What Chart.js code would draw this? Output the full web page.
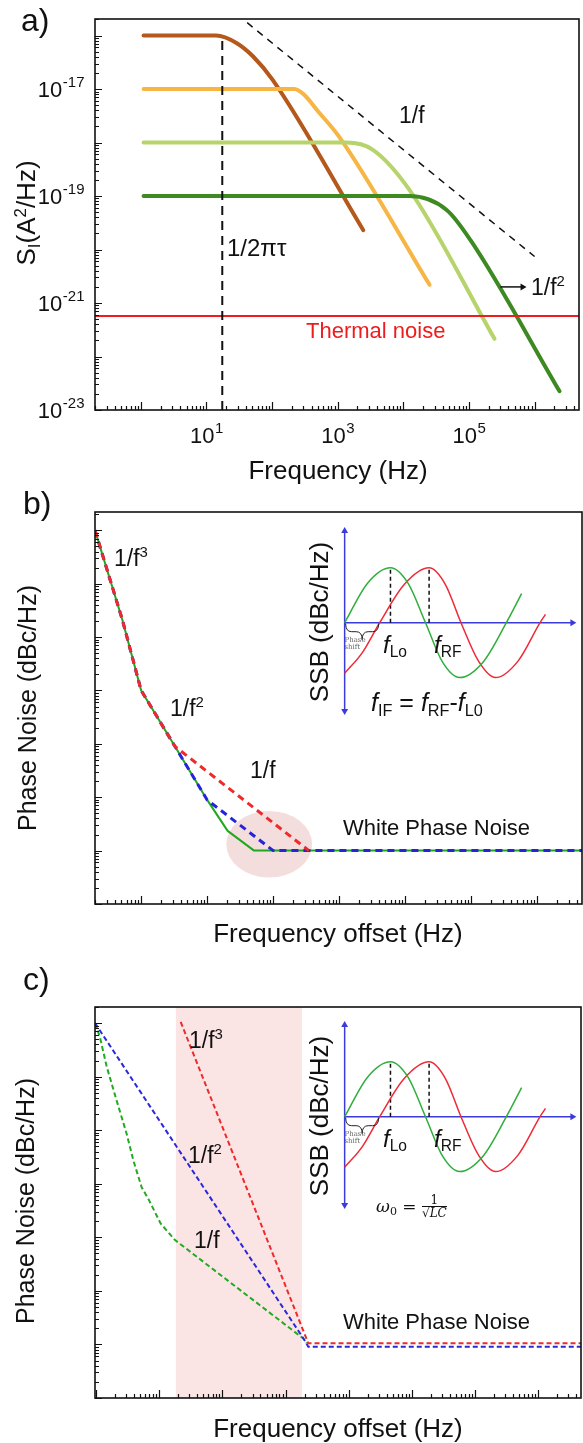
<!DOCTYPE html>
<html>
<head>
<meta charset="utf-8">
<title>Noise spectra</title>
<script src="https://cdn.jsdelivr.net/npm/chart.js@4.4.1/dist/chart.umd.min.js"></script>
<style>
  html, body { margin: 0; background: #fff; }
  #page { position: relative; width: 583px; height: 1443px; overflow: hidden;
          font-family: 'Liberation Sans', Arial, sans-serif; color: #111; }
  #page canvas { position: absolute; }
  .note, .vert { position: absolute; white-space: nowrap; line-height: 1; }
  .vert { transform: translate(-50%, -50%) rotate(-90deg); }
  .note sup, .note sub, .vert sup, .vert sub { font-size: 0.65em; position: relative; vertical-align: baseline; line-height: 0; }
  .note sup, .vert sup { top: -0.55em; }
  .note sub, .vert sub { top: 0.3em; }
  .frac { display: inline-block; vertical-align: middle; text-align: center; font-size: 12px; font-style: normal; }
  .frac span { display: block; line-height: 1.05; }
</style>
</head>
<body>
<div id="page">
  <canvas id="chartA" width="583" height="480" style="left:0;top:0"></canvas>
  <canvas id="chartB" width="583" height="480" style="left:0;top:480px"></canvas>
  <canvas id="chartC" width="583" height="483" style="left:0;top:960px"></canvas>
  <canvas id="insetB" width="253" height="215" style="left:330px;top:515px"></canvas>
  <canvas id="insetC" width="253" height="215" style="left:330px;top:1009px"></canvas>
</div>
<script>
// ---- a) current noise spectra, S_I (A²/Hz) vs frequency (Hz) ----
const aBrownF  = [1.1, 10, 14, 29, 51, 102, 2450];
const aBrownS  = [1e-16, 1e-16, 1e-16, 7.2e-17, 4.1e-17, 1.48e-17, 2.3e-20];
const aOrangeF = [1.1, 100, 219, 316, 479, 1047, 25100];
const aOrangeS = [1e-17, 1e-17, 1e-17, 7.6e-18, 4.1e-18, 1.29e-18, 2.19e-21];
const aLimeF   = [1.1, 1000, 1350, 3390, 12300, 245000];
const aLimeS   = [1e-18, 1e-18, 1e-18, 7.4e-19, 1.32e-19, 2.14e-22];
const aGreenF  = [1.1, 10000, 12300, 45700, 105000, 2400000];
const aGreenS  = [1e-19, 1e-19, 1e-19, 5.5e-20, 1.51e-20, 2.24e-23];
const aSlopeF  = [41.7, 1e6];            // 1/f guide
const aSlopeS  = [1.74e-16, 7.4e-21];
const aCornerF = 17.4;                   // 1/2πτ
const aCornerS = [1e-23, 1e-16];
const aThermalS = 5.7e-22;
const aArrowF  = [3.0e5, 6.55e5];
const aArrowS  = 2e-21;
const aXRange  = [0.2, 4.75e6];
const aYRange  = [1e-23, 2.04e-16];
const aXLabelExp = [1, 3, 5];
const aYLabelExp = [-17, -19, -21, -23];

// ---- b) phase noise vs offset, three oscillators ----
const bRedF   = [0.2, 0.52, 1, 3.26, 347];
const bRedN   = [1e6, 20900, 1000, 89, 1];
const bBlueF  = [0.2, 0.52, 1, 3.26, 10, 100, 4.75e6];
const bBlueN  = [1e6, 20900, 1000, 89, 8.9, 1, 1];
const bGreenF = [0.2, 0.52, 1, 3.26, 10, 20.4, 51.3, 4.75e6];
const bGreenN = [1e6, 20900, 1000, 89, 8.9, 2.34, 1, 1];
const bHaloF  = [19.5, 389];             // highlighted corner region
const bHaloN  = [0.312, 5.53];
const bXRange = [0.2, 4.75e6];
const bYRange = [0.1, 2.2e6];

// ---- c) phase noise slopes ----
const cRedF   = [2.19, 209, 229, 4.77e6];
const cRedN   = [1.05e6, 1.38, 1.05, 1.05];
const cBlueF  = [0.0962, 200, 229, 4.77e6];
const cBlueN  = [1e6, 1.2, 0.91, 0.91];
const cGreenF = [0.0962, 0.115, 0.148, 0.211, 0.304, 0.389, 0.525, 0.692, 1.05, 1.78, 191, 214];
const cGreenN = [1e6, 5.5e5, 1.51e5, 3.63e4, 8710, 2750, 871, 490, 182, 89, 1.29, 1.07];
const cBandF  = [1.84, 182];
const cXRange = [0.0962, 4.77e6];
const cYRange = [0.1, 2e6];

// ---- inset: LO / RF waveforms (phase in degrees, normalised amplitude) ----
const loPhase = [0, 51, 102, 141, 180, 218, 256, 308, 360, 394];
const loAmp   = [0, 0.72, 1, 0.72, 0, -0.72, -1, -0.72, 0, 0.53];
const rfPhase = [0, 39, 78, 133, 188, 224, 259, 298, 336, 386, 435, 447];
const rfAmp   = [-0.92, -0.55, 0, 0.7, 1, 0.7, 0, -0.7, -1, -0.7, 0, 0.15];
const peakPhase  = [102, 188];
const shiftPhase = [0, 78];
const insetAxisX = [0, 507];
const insetAxisY = [-1.61, 1.67];

const FONT = '"Liberation Sans", Arial, sans-serif';
Chart.defaults.font.family = FONT;

const pts = (xs, ys) => xs.map((x, i) => ({ x, y: Array.isArray(ys) ? ys[i] : ys }));

function logSteps(scale) {
  const out = [];
  const lo = Math.floor(Math.log10(scale.min));
  const hi = Math.ceil(Math.log10(scale.max));
  for (let e = lo; e <= hi; e++) {
    for (let m = 1; m <= 9; m++) {
      const v = m * Math.pow(10, e);
      if (v >= scale.min * (1 - 1e-9) && v <= scale.max * (1 + 1e-9)) out.push({ v, major: m === 1 });
    }
  }
  return out;
}

function drawPow(ctx, exp, x, y, anchor) {
  const sup = String(exp);
  ctx.font = '22px ' + FONT;
  const w1 = ctx.measureText('10').width;
  ctx.font = '15px ' + FONT;
  const w2 = ctx.measureText(sup).width;
  const left = anchor === 'center' ? x - (w1 + w2) / 2 : x - (w1 + w2);
  ctx.font = '22px ' + FONT;
  ctx.fillText('10', left, y);
  ctx.font = '15px ' + FONT;
  ctx.fillText(sup, left + w1 + 0.5, y - 10);
}

// box frame, inward log ticks and optional 10^n labels
const frameTicks = {
  id: 'frameTicks',
  afterDraw(chart, args, opts) {
    const { ctx, chartArea: ca, scales: { x, y } } = chart;
    ctx.save();
    ctx.strokeStyle = '#111';
    ctx.lineWidth = 1.2;
    ctx.beginPath();
    logSteps(x).forEach(t => {
      const px = Math.round(x.getPixelForValue(t.v)) + 0.5;
      ctx.moveTo(px, ca.bottom);
      ctx.lineTo(px, ca.bottom - (t.major ? 8 : 4));
    });
    logSteps(y).forEach(t => {
      const py = Math.round(y.getPixelForValue(t.v)) + 0.5;
      ctx.moveTo(ca.left, py);
      ctx.lineTo(ca.left + (t.major ? 7 : 4), py);
    });
    ctx.stroke();
    ctx.lineWidth = 1.6;
    ctx.strokeRect(ca.left, ca.top, ca.right - ca.left, ca.bottom - ca.top);

    ctx.fillStyle = '#111';
    ctx.textAlign = 'left';
    ctx.textBaseline = 'alphabetic';
    (opts.xExp || []).forEach(e => drawPow(ctx, e, x.getPixelForValue(Math.pow(10, e)), ca.bottom + 33, 'center'));
    (opts.yExp || []).forEach(e => drawPow(ctx, e, ca.left - 11, y.getPixelForValue(Math.pow(10, e)) + 8, 'right'));
    ctx.restore();
  }
};

// shaded regions behind the curves
const shading = {
  id: 'shading',
  beforeDatasetsDraw(chart, args, opts) {
    const { ctx, chartArea: ca, scales: { x, y } } = chart;
    ctx.save();
    if (opts.band) {
      const x1 = x.getPixelForValue(opts.band[0]);
      const x2 = x.getPixelForValue(opts.band[1]);
      ctx.fillStyle = 'rgba(240,150,150,0.26)';
      ctx.fillRect(x1, ca.top, x2 - x1, ca.bottom - ca.top);
    }
    if (opts.halo) {
      const x1 = x.getPixelForValue(opts.halo.x[0]), x2 = x.getPixelForValue(opts.halo.x[1]);
      const y1 = y.getPixelForValue(opts.halo.y[0]), y2 = y.getPixelForValue(opts.halo.y[1]);
      ctx.fillStyle = 'rgba(220,150,150,0.32)';
      ctx.beginPath();
      ctx.ellipse((x1 + x2) / 2, (y1 + y2) / 2, Math.abs(x2 - x1) / 2, Math.abs(y2 - y1) / 2, 0, 0, Math.PI * 2);
      ctx.fill();
    }
    ctx.restore();
  }
};

// curly brace marking the phase shift under the inset axis
const brace = {
  id: 'brace',
  afterDatasetsDraw(chart, args, opts) {
    const { ctx, scales: { x, y } } = chart;
    const x1 = x.getPixelForValue(opts.span[0]) + 1, x2 = x.getPixelForValue(opts.span[1]) - 1;
    const y0 = y.getPixelForValue(0) + 1, h = 16, q = 6, xm = (x1 + x2) / 2;
    ctx.save();
    ctx.strokeStyle = '#222';
    ctx.lineWidth = 1;
    ctx.beginPath();
    ctx.moveTo(x1, y0);
    ctx.quadraticCurveTo(x1, y0 + h / 2, x1 + q, y0 + h / 2);
    ctx.lineTo(xm - q, y0 + h / 2);
    ctx.quadraticCurveTo(xm, y0 + h / 2, xm, y0 + h);
    ctx.quadraticCurveTo(xm, y0 + h / 2, xm + q, y0 + h / 2);
    ctx.lineTo(x2 - q, y0 + h / 2);
    ctx.quadraticCurveTo(x2, y0 + h / 2, x2, y0);
    ctx.stroke();
    ctx.restore();
  }
};

function line(data, color, width, extra) {
  return Object.assign({
    data, borderColor: color, borderWidth: width, pointRadius: 0,
    fill: false, tension: 0, borderCapStyle: 'butt', borderJoinStyle: 'round'
  }, extra || {});
}

function logChart(id, padding, xr, yr, datasets, pluginOpts) {
  return new Chart(document.getElementById(id), {
    type: 'line',
    data: { datasets },
    options: {
      responsive: false, animation: false, events: [],
      layout: { padding },
      plugins: Object.assign({ legend: { display: false }, tooltip: { enabled: false } }, pluginOpts),
      scales: {
        x: { type: 'logarithmic', min: xr[0], max: xr[1], display: false },
        y: { type: 'logarithmic', min: yr[0], max: yr[1], display: false }
      }
    },
    plugins: [shading, frameTicks]
  });
}

const smooth = { cubicInterpolationMode: 'monotone', borderCapStyle: 'round' };

logChart('chartA', { left: 95, top: 19, right: 2, bottom: 70 }, aXRange, aYRange, [
  line(pts(aArrowF, aArrowS), '#111', 1.5, { pointRadius: [0, 4], pointStyle: 'triangle', pointRotation: 90, pointBackgroundColor: '#111', pointBorderWidth: 0 }),
  line(pts(aSlopeF, aSlopeS), '#111', 1.5, { borderDash: [7, 6] }),
  line(pts([aCornerF, aCornerF], aCornerS), '#111', 2, { borderDash: [9, 6] }),
  line(pts(aXRange, aThermalS), '#ee1c1c', 2),
  line(pts(aGreenF, aGreenS), '#3d8a22', 4, smooth),
  line(pts(aLimeF, aLimeS), '#b7d46c', 4, smooth),
  line(pts(aOrangeF, aOrangeS), '#f7b544', 4, smooth),
  line(pts(aBrownF, aBrownS), '#b4581c', 4, smooth)
], { frameTicks: { xExp: aXLabelExp, yExp: aYLabelExp } });

logChart('chartB', { left: 95, top: 32, right: 1, bottom: 56 }, bXRange, bYRange, [
  line(pts(bRedF, bRedN), '#ee2a2a', 3, { borderDash: [7, 5] }),
  line(pts(bBlueF, bBlueN), '#2424dc', 3, { borderDash: [7, 5] }),
  line(pts(bGreenF, bGreenN), '#1fa81f', 2)
], { shading: { halo: { x: bHaloF, y: bHaloN } } });

logChart('chartC', { left: 95, top: 47, right: 2, bottom: 45 }, cXRange, cYRange, [
  line(pts(cRedF, cRedN), '#ee2a2a', 2, { borderDash: [5, 3] }),
  line(pts(cBlueF, cBlueN), '#2828dc', 2, { borderDash: [5, 3] }),
  line(pts(cGreenF, cGreenN), '#22aa22', 2, { borderDash: [5, 3] })
], { shading: { band: cBandF } });

function inset(id) {
  const axisBlue = '#3b3bdc';
  return new Chart(document.getElementById(id), {
    type: 'line',
    data: {
      datasets: [
        line(pts(loPhase, loAmp), '#2fae3c', 1.5, { cubicInterpolationMode: 'monotone' }),
        line(pts(rfPhase, rfAmp), '#ee2a36', 1.5, { cubicInterpolationMode: 'monotone' }),
        line(pts([peakPhase[0], peakPhase[0]], [0, 1]), '#111', 1.5, { borderDash: [4, 3] }),
        line(pts([peakPhase[1], peakPhase[1]], [0, 1]), '#111', 1.5, { borderDash: [4, 3] }),
        line(pts(insetAxisX, 0), axisBlue, 1.5, { pointRadius: [0, 4], pointStyle: 'triangle', pointRotation: 90, pointBackgroundColor: axisBlue, pointBorderWidth: 0 }),
        line(pts([0, 0], insetAxisY), axisBlue, 1.5, { pointRadius: 4, pointStyle: 'triangle', pointRotation: [180, 0], pointBackgroundColor: axisBlue, pointBorderWidth: 0 })
      ]
    },
    options: {
      responsive: false, animation: false, events: [],
      layout: { padding: 0 },
      plugins: { legend: { display: false }, tooltip: { enabled: false }, brace: { span: shiftPhase } },
      scales: {
        x: { type: 'linear', min: -23.7, max: 521.7, display: false },
        y: { type: 'linear', min: -1.882, max: 1.889, display: false }
      }
    },
    plugins: [brace]
  });
}
inset('insetB');
inset('insetC');

// ---- text ----
const page = document.getElementById('page');
function note(html, x, base, size, opts = {}) {
  const d = document.createElement('div');
  d.className = 'note';
  d.innerHTML = html;
  d.style.fontSize = size + 'px';
  d.style.left = x + 'px';
  d.style.top = (base - 0.8465 * size) + 'px';
  if (opts.center) d.style.transform = 'translateX(-50%)';
  if (opts.color) d.style.color = opts.color;
  if (opts.family) d.style.fontFamily = opts.family;
  page.appendChild(d);
  return d;
}
function vert(html, cx, cy, size) {
  const d = document.createElement('div');
  d.className = 'vert';
  d.innerHTML = html;
  d.style.fontSize = size + 'px';
  d.style.left = cx + 'px';
  d.style.top = cy + 'px';
  page.appendChild(d);
}

// a)
note('a)', 21, 31, 32);
vert('S<sub>I</sub>(A<sup>2</sup>/Hz)', 26, 213, 26);
note('Frequency (Hz)', 338, 479, 26, { center: true });
note('1/f', 399, 123, 23);
note('1/2πτ', 227, 256, 24);
note('Thermal noise', 306, 339, 22, { color: '#ee1c1c' });
note('1/f<sup>2</sup>', 531, 295, 23);

// b)
note('b)', 23, 514, 32);
vert('Phase Noise (dBc/Hz)', 27, 708, 25);
note('Frequency offset (Hz)', 338, 942, 26, { center: true });
note('1/f<sup>3</sup>', 114, 566, 23);
note('1/f<sup>2</sup>', 170, 716, 23);
note('1/f', 250, 778, 23);
note('White Phase Noise', 343, 836, 22);

// c)
note('c)', 23, 990, 32);
vert('Phase Noise (dBc/Hz)', 25, 1201, 25);
note('Frequency offset (Hz)', 338, 1437, 26, { center: true });
note('1/f<sup>3</sup>', 189, 1048, 23);
note('1/f<sup>2</sup>', 188, 1163, 23);
note('1/f', 194, 1248, 23);
note('White Phase Noise', 343, 1330, 22);

// inset labels, panel b then panel c
[0, 494].forEach(dy => {
  vert('SSB (dBc/Hz)', 319, 622 + dy, 26);
  note('<i>f</i><sub>Lo</sub>', 383, 653 + dy, 24);
  note('<i>f</i><sub>RF</sub>', 434, 653 + dy, 24);
  const ps = note('Phase<br>shift', 355, 643 + dy, 7, { center: true, color: '#666', family: '"DejaVu Serif", serif' });
  ps.style.lineHeight = '0.95';
});
note('<i>f</i><sub>IF</sub> = <i>f</i><sub>RF</sub>-<i>f</i><sub>L0</sub>', 371, 711, 25);
note('<i>ω</i><sub>0</sub> = <span class="frac"><span style="border-bottom:1px solid #111;padding:0 3px">1</span><span>√<i>LC</i></span></span>',
     376, 1208, 17, { family: '"DejaVu Serif", serif' });
</script>
</body>
</html>
